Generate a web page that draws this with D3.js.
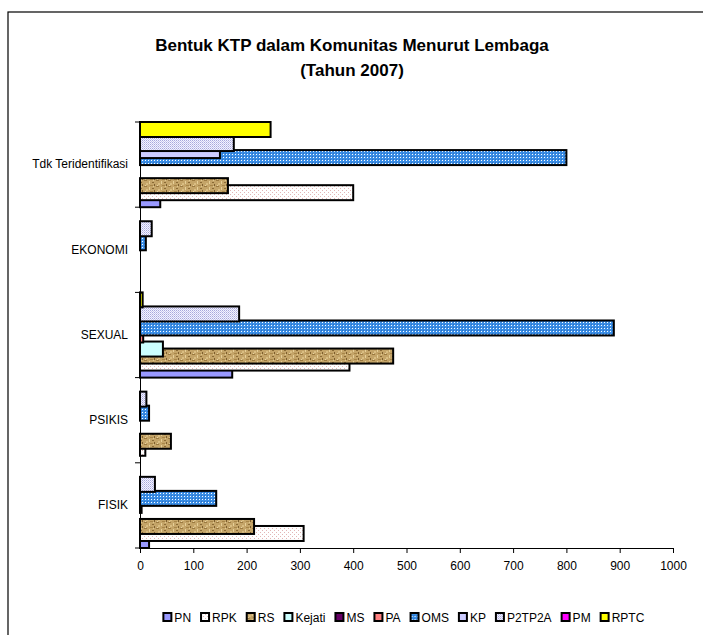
<!DOCTYPE html>
<html>
<head>
<meta charset="utf-8">
<script src="https://cdn.jsdelivr.net/npm/d3@7"></script>
<style>
  html, body { margin: 0; padding: 0; background: #fff; }
  svg { display: block; font-family: "Liberation Sans", Arial, sans-serif; }
</style>
</head>
<body>
<svg id="chart" width="703" height="635"></svg>
<script>
// Categories, top to bottom as drawn
const categories = ['Tdk Teridentifikasi', 'EKONOMI', 'SEXUAL', 'PSIKIS', 'FISIK'];
const seriesNames = ['PN', 'RPK', 'RS', 'Kejati', 'MS', 'PA', 'OMS', 'KP', 'P2TP2A', 'PM', 'RPTC'];

// values per series, in order: FISIK, PSIKIS, SEXUAL, EKONOMI, Tdk Teridentifikasi
const valueOrder = ['FISIK', 'PSIKIS', 'SEXUAL', 'EKONOMI', 'Tdk Teridentifikasi'];
const PN     = [17, 0, 173, 0, 38];
const RPK    = [307, 10, 393, 0, 400];
const RS     = [214, 58, 475, 0, 165];
const Kejati = [0, 0, 43, 0, 0];
const MS     = [0, 0, 0, 0, 0];
const PA     = [3, 0, 6, 0, 0];
const OMS    = [143, 17, 889, 11, 800];
const KP     = [0, 0, 0, 0, 150];
const P2TP2A = [28, 12, 186, 22, 176];
const PM     = [0, 0, 0, 0, 0];
const RPTC   = [0, 0, 5, 0, 245];
const seriesValues = [PN, RPK, RS, Kejati, MS, PA, OMS, KP, P2TP2A, PM, RPTC];

const xTicks = [0, 100, 200, 300, 400, 500, 600, 700, 800, 900, 1000];

const svg = d3.select('#chart');

// Patterns to mimic the Excel fills
const defs = svg.append('defs');

function pattern(id, w, h, bg, dots) {
  const p = defs.append('pattern')
    .attr('id', id)
    .attr('patternUnits', 'userSpaceOnUse')
    .attr('width', w).attr('height', h);
  p.append('rect').attr('width', w).attr('height', h).attr('fill', bg);
  dots.forEach(d => p.append('rect')
    .attr('x', d[0]).attr('y', d[1])
    .attr('width', d[2] || 1).attr('height', d[3] || 1)
    .attr('fill', d[4]));
}
pattern('pRPK', 4, 4, '#fff', [[0, 0, 1, 1, '#e3b5b5'], [2, 2, 1, 1, '#e3b5b5']]);
pattern('pOMS', 3, 3, '#3a8ee6', [[1, 1, 1, 1, '#ffffff'], [0, 0, 1, 1, '#2f6fc0']]);
pattern('pP2', 2, 2, '#f4f4ff', [[0, 0, 1, 1, '#a8a8dc'], [1, 1, 1, 1, '#c8c8ee']]);
pattern('pRS', 12, 6, '#c4a468', [
  [0, 0, 3, 1, '#9c7a40'], [5, 1, 1, 3, '#e6cf98'], [8, 2, 2, 1, '#8a6a35'],
  [2, 3, 2, 2, '#d9bd82'], [10, 4, 1, 2, '#7d5e2e'], [6, 5, 3, 1, '#a88649'],
  [1, 5, 1, 1, '#e8d4a4'], [9, 0, 1, 1, '#e0c890']
]);

const fills = {
  PN: '#9999ff', RPK: 'url(#pRPK)', RS: 'url(#pRS)', Kejati: '#ccffff',
  MS: '#660066', PA: '#ff8080', OMS: 'url(#pOMS)', KP: '#ccccff',
  P2TP2A: 'url(#pP2)', PM: '#ff00ff', RPTC: '#ffff00'
};

// Outer frame (right and bottom edges fall outside the picture)
svg.append('rect')
  .attr('x', 8).attr('y', 12)
  .attr('width', 720).attr('height', 640)
  .attr('fill', 'none').attr('stroke', '#000').attr('stroke-width', 1.2);

// Title
const title = svg.append('text')
  .attr('x', 352).attr('text-anchor', 'middle')
  .attr('font-size', '17px').attr('font-weight', 'bold').attr('fill', '#000');
title.append('tspan').attr('x', 352).attr('y', 51).text('Bentuk  KTP dalam Komunitas Menurut Lembaga');
title.append('tspan').attr('x', 352).attr('y', 76).text('(Tahun 2007)');

// Scales
const x = d3.scaleLinear().domain([0, 1000]).range([140, 673]);
const y = d3.scaleBand().domain(categories).range([122, 548]).padding(0);
const barH = 15;
const offset = d3.scaleLinear().domain([seriesNames.length - 1, 0]).range([0, y.bandwidth() - barH]);

// Bars: series drawn in order so later ones sit on top
const barsLayer = svg.append('g');
seriesNames.forEach((name, si) => {
  const rows = valueOrder
    .map((cat, ci) => ({ cat, v: seriesValues[si][ci] }))
    .filter(d => d.v > 0);
  barsLayer.append('g')
    .selectAll('rect')
    .data(rows)
    .join('rect')
    .attr('x', x(0))
    .attr('y', d => y(d.cat) + offset(si))
    .attr('width', d => x(d.v) - x(0))
    .attr('height', barH)
    .attr('fill', fills[name])
    .attr('stroke', '#000')
    .attr('stroke-width', 2);
});

// X axis
const xAxis = svg.append('g')
  .attr('transform', `translate(0,${548})`)
  .call(d3.axisBottom(x).tickValues(xTicks).tickFormat(d3.format('d'))
    .tickSize(5).tickSizeOuter(0).tickPadding(8));
xAxis.selectAll('text').attr('font-size', '12px').attr('fill', '#000')
  .attr('font-family', '"Liberation Sans", Arial, sans-serif');
xAxis.selectAll('line, path').attr('stroke', '#000');

// Y axis: labels centred on bands, ticks between categories
const yAxis = svg.append('g')
  .attr('transform', `translate(${140},0)`)
  .call(d3.axisLeft(y).tickSize(0).tickPadding(12));
yAxis.select('.domain').attr('stroke', '#000');
yAxis.selectAll('text').attr('font-size', '12px').attr('fill', '#000')
  .attr('font-family', '"Liberation Sans", Arial, sans-serif');
const boundaries = categories.map(c => y(c)).concat([y.range()[1]]);
yAxis.selectAll('line.bound')
  .data(boundaries)
  .join('line')
  .attr('class', 'bound')
  .attr('x1', -5).attr('x2', 0)
  .attr('y1', d => d).attr('y2', d => d)
  .attr('stroke', '#000');

// Legend
const legend = svg.append('g').attr('transform', 'translate(0,618)');
const items = legend.selectAll('g')
  .data(seriesNames)
  .join('g');
items.append('rect')
  .attr('x', 0).attr('y', -5)
  .attr('width', 8).attr('height', 8)
  .attr('fill', d => fills[d])
  .attr('stroke', '#000').attr('stroke-width', 2);
items.append('text')
  .attr('x', 11).attr('y', 4)
  .attr('font-size', '12px').attr('fill', '#000')
  .text(d => d);

const widths = [];
items.each(function () {
  widths.push(this.getBBox().width);
});
const gap = 10;
const total = d3.sum(widths) + gap * (widths.length - 1);
let cursor = 404 - total / 2;
items.attr('transform', (d, i) => {
  const t = `translate(${cursor},0)`;
  cursor += widths[i] + gap;
  return t;
});
</script>
</body>
</html>
